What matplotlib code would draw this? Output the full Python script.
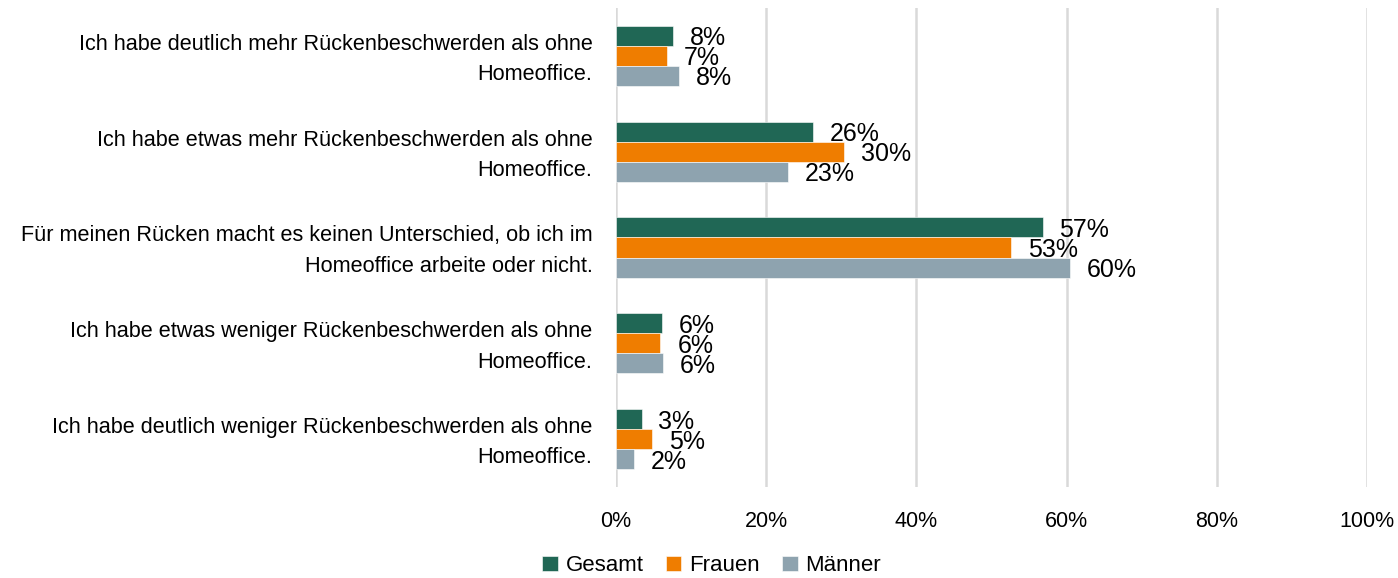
import matplotlib
matplotlib.use("Agg")
import matplotlib.pyplot as plt
import matplotlib.transforms as mtransforms
import numpy as np

categories = [
    "Ich habe deutlich mehr Rückenbeschwerden als ohne\nHomeoffice.",
    "Ich habe etwas mehr Rückenbeschwerden als ohne\nHomeoffice.",
    "Für meinen Rücken macht es keinen Unterschied, ob ich im\nHomeoffice arbeite oder nicht.",
    "Ich habe etwas weniger Rückenbeschwerden als ohne\nHomeoffice.",
    "Ich habe deutlich weniger Rückenbeschwerden als ohne\nHomeoffice.",
]
series_names = ["Gesamt", "Frauen", "Männer"]
gesamt = [7.6, 26.2, 56.8, 6.1, 3.4]
frauen = [6.75, 30.4, 52.6, 5.9, 4.75]
maenner = [8.4, 22.9, 60.4, 6.2, 2.4]
x_ticks = [0, 20, 40, 60, 80, 100]
x_tick_labels = ["0%", "20%", "40%", "60%", "80%", "100%"]

colors = ["#206755", "#EF7D00", "#8EA3AF"]

plt.rcParams["font.family"] = ["Liberation Sans", "DejaVu Sans"]

fig = plt.figure(figsize=(13.98, 5.78), dpi=100)
ax = fig.add_axes([616 / 1398, 1 - 487 / 578, (1367 - 616) / 1398, (487 - 8) / 578])

y = np.arange(len(categories))
h = 0.209
all_series = [gesamt, frauen, maenner]
for i, (name, vals, c) in enumerate(zip(series_names, all_series, colors)):
    pos = y + (i - 1) * h
    ax.barh(pos, vals, height=h, color=c, label=name, edgecolor="white", linewidth=0.4, zorder=3)
    for p, v in zip(pos, vals):
        ax.annotate(f"{v:.0f}%", xy=(v, p), xytext=(12.2, -1.8), textcoords="offset points",
                    ha="left", va="center", fontsize=18, color="black", zorder=4)

ax.set_xlim(0, 100)
ax.set_ylim(len(categories) - 0.5, -0.5)
ax.set_xticks(x_ticks)
ax.set_xticklabels(x_tick_labels, fontsize=15.5)
ax.set_yticks(y)
ax.set_yticklabels(categories, fontsize=15.6, linespacing=1.58)
ax.tick_params(axis="x", length=0, pad=17)
ax.tick_params(axis="y", length=0, pad=17)
shift = mtransforms.ScaledTranslation(0, 3.5 / 100, fig.dpi_scale_trans)
for lbl in ax.get_yticklabels():
    lbl.set_horizontalalignment("right")
    lbl.set_transform(lbl.get_transform() + shift)
for s in ax.spines.values():
    s.set_visible(False)
ax.grid(axis="x", color="#d9d9d9", linewidth=1.8, zorder=0)
ax.set_axisbelow(True)

fig.legend(loc="center", bbox_to_anchor=(0.509, 0.021), ncol=3, frameon=False, fontsize=16,
           handlelength=0.7, handleheight=0.7, handletextpad=0.35, columnspacing=1.0)

fig.savefig("out.png", dpi=100)
